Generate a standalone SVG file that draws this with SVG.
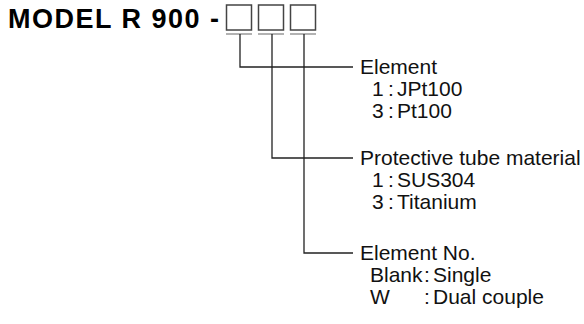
<svg xmlns="http://www.w3.org/2000/svg" width="584" height="324" viewBox="0 0 584 324">
<style>
.t{font-family:"Liberation Sans",Arial,sans-serif;font-size:21px;fill:#111}
.h{font-family:"Liberation Sans",Arial,sans-serif;font-size:27px;font-weight:bold;fill:#000;letter-spacing:1.5px}
.box{fill:#fff;stroke:#444;stroke-width:1.5}
.ul{stroke:#999;stroke-width:1.5}
.c{fill:none;stroke:#222;stroke-width:1.3}
</style>
<rect width="584" height="324" fill="#fff"/>
<g id="title">
<text class="h" x="8" y="28">MODEL R 900 -</text>
</g>
<g id="boxes">
<rect class="box" x="226.5" y="5" width="25" height="25"/>
<rect class="box" x="258.5" y="5" width="25" height="25"/>
<rect class="box" x="290.5" y="5" width="25" height="25"/>
<line class="ul" x1="226" y1="34" x2="252" y2="34"/>
<line class="ul" x1="258" y1="34" x2="284" y2="34"/>
<line class="ul" x1="290" y1="34" x2="316" y2="34"/>
</g>
<g id="connectors">
<polyline class="c" points="240,34 240,67 353,67"/>
<polyline class="c" points="272,34 272,158 353,158"/>
<polyline class="c" points="304,34 304,253 353,253"/>
</g>
<g id="element">
<text class="t" x="360" y="74">Element</text>
<text class="t" x="372" y="96">1<tspan x="388">:</tspan><tspan x="397">JPt100</tspan></text>
<text class="t" x="372" y="118">3<tspan x="388">:</tspan><tspan x="397">Pt100</tspan></text>
</g>
<g id="tube">
<text class="t" x="360" y="165">Protective tube material</text>
<text class="t" x="372" y="187">1<tspan x="388">:</tspan><tspan x="397">SUS304</tspan></text>
<text class="t" x="372" y="209">3<tspan x="388">:</tspan><tspan x="397">Titanium</tspan></text>
</g>
<g id="elementno">
<text class="t" x="360" y="260">Element No.</text>
<text class="t" x="370" y="282">Blank<tspan x="424">:</tspan><tspan x="433">Single</tspan></text>
<text class="t" x="370" y="304">W<tspan x="424">:</tspan><tspan x="433">Dual couple</tspan></text>
</g>
</svg>
